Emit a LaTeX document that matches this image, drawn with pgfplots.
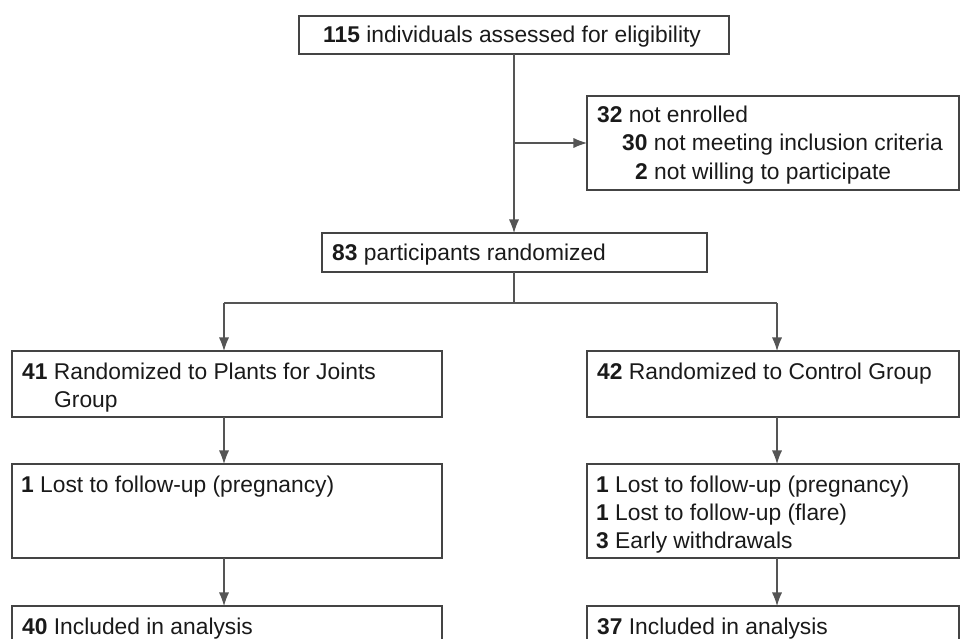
\documentclass[border=0pt]{standalone}
\usepackage{pgfplots}
\pgfplotsset{compat=1.18}
\usepackage{fontspec}
\setmainfont{Liberation Sans}
\usetikzlibrary{arrows.meta}
\definecolor{bx}{HTML}{444444}
\definecolor{ln}{HTML}{555555}
\definecolor{tx}{HTML}{1A1A1A}
\tikzset{
  box/.style={bx, line width=1.3pt},
  con/.style={ln, line width=1.1pt, line cap=butt},
  arr/.style={ln, line width=1.1pt, line cap=butt, -{Latex[scale=1.7]}},
  txt/.style={anchor=base west, inner sep=0pt, text=tx, font=\fontsize{22.8}{28}\selectfont},
}
\begin{document}
\begin{tikzpicture}
\begin{axis}[scale only axis, width=960pt, height=639pt,
  xmin=0, xmax=960, ymin=0, ymax=639, y dir=reverse,
  hide axis, clip=true,
  every axis plot/.append style={mark=none, line join=miter, line cap=rect},
]
% boxes
\addplot[box] coordinates {(299,16)(729,16)(729,54)(299,54)(299,16)};
\addplot[box] coordinates {(587,96)(959,96)(959,190)(587,190)(587,96)};
\addplot[box] coordinates {(322,233)(707,233)(707,272)(322,272)(322,233)};
\addplot[box] coordinates {(12,351)(442,351)(442,417)(12,417)(12,351)};
\addplot[box] coordinates {(587,351)(959,351)(959,417)(587,417)(587,351)};
\addplot[box] coordinates {(12,464)(442,464)(442,558)(12,558)(12,464)};
\addplot[box] coordinates {(587,464)(959,464)(959,558)(587,558)(587,464)};
\addplot[box] coordinates {(12,680)(12,606)(442,606)(442,680)};
\addplot[box] coordinates {(587,680)(587,606)(959,606)(959,680)};
% connectors
\addplot[arr] coordinates {(514,54)(514,233)};
\addplot[arr] coordinates {(514,143)(587,143)};
\addplot[con] coordinates {(514,272)(514,303)};
\addplot[con] coordinates {(224,303)(777,303)};
\addplot[arr] coordinates {(224,303)(224,351)};
\addplot[arr] coordinates {(777,303)(777,351)};
\addplot[arr] coordinates {(224,417)(224,464)};
\addplot[arr] coordinates {(777,417)(777,464)};
\addplot[arr] coordinates {(224,558)(224,606)};
\addplot[arr] coordinates {(777,558)(777,606)};
% texts
\node[txt] at (axis cs:323,43) {\textbf{115} individuals assessed for eligibility};
\node[txt] at (axis cs:597,123) {\textbf{32} not enrolled};
\node[txt] at (axis cs:622,151) {\textbf{30} not meeting inclusion criteria};
\node[txt] at (axis cs:635,179) {\textbf{2} not willing to participate};
\node[txt] at (axis cs:332,260) {\textbf{83} participants randomized};
\node[txt] at (axis cs:22,379) {\textbf{41} Randomized to Plants for Joints};
\node[txt] at (axis cs:54,407) {Group};
\node[txt] at (axis cs:597,379) {\textbf{42} Randomized to Control Group};
\node[txt] at (axis cs:21,492) {\textbf{1} Lost to follow-up (pregnancy)};
\node[txt] at (axis cs:596,492) {\textbf{1} Lost to follow-up (pregnancy)};
\node[txt] at (axis cs:596,520) {\textbf{1} Lost to follow-up (flare)};
\node[txt] at (axis cs:596,548) {\textbf{3} Early withdrawals};
\node[txt] at (axis cs:22,634) {\textbf{40} Included in analysis};
\node[txt] at (axis cs:597,634) {\textbf{37} Included in analysis};
\end{axis}
\pgfresetboundingbox
\path[use as bounding box] (current axis.south west) rectangle (current axis.north east);
\end{tikzpicture}
\end{document}
